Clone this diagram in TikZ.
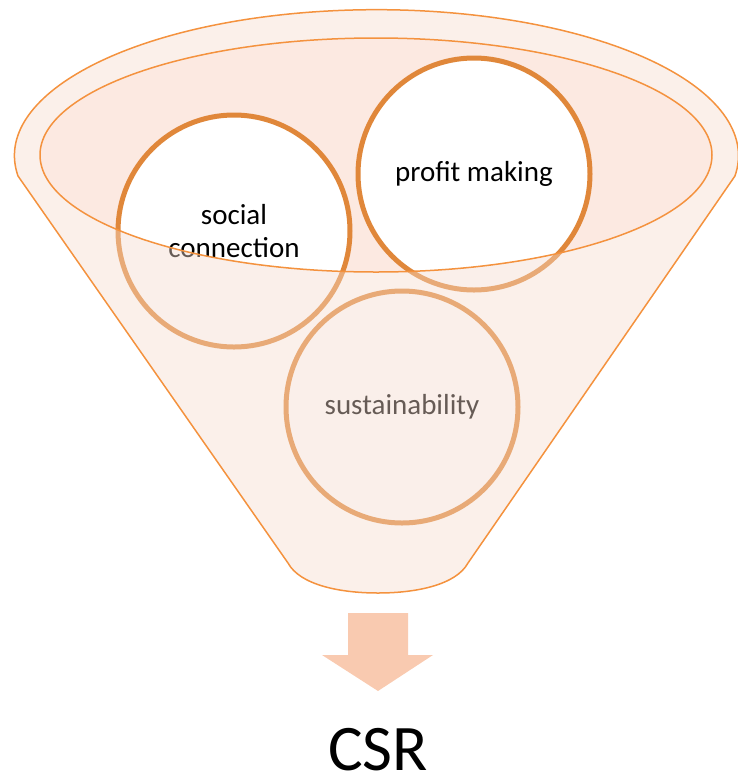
\documentclass[tikz,border=0pt]{standalone}
\usepackage{fontspec}
\setmainfont{Carlito}
\usetikzlibrary{positioning}
\definecolor{FunnelLine}{HTML}{F4923E}
\definecolor{FunnelBody}{RGB}{245,219,205}
\definecolor{FunnelMouth}{HTML}{FCE9E1}
\definecolor{BubbleLine}{HTML}{E0873A}
\definecolor{ArrowFill}{HTML}{F9CAB0}

\begin{document}
\begin{tikzpicture}[x=1pt,y=-1pt,line cap=round,line join=round,
  bubble/.style={circle,draw=BubbleLine,line width=5pt,fill=white,minimum size=232pt,inner sep=0pt,align=center,font=\fontsize{29}{33}\selectfont},
  body/.style={line width=1.5pt}]
  \useasboundingbox (0,0) rectangle (738,780);
  \coordinate (M) at (376,155);\coordinate (TL) at (18,176);\coordinate (BL) at (288,563);\coordinate (BR) at (468,563);
  % mouth of the funnel, behind the bubbles
  \fill[FunnelMouth] (M) ellipse[x radius=336pt,y radius=117pt];
  \node[bubble] (social) at (234,231) {social\\connection};
  \node[bubble] (profit) at (474,174) {profit making};
  \node[bubble] (sustain) at (402,407) {sustainability};
  % front of the funnel, see-through
  \fill[FunnelBody,fill opacity=.42,even odd rule] (TL) arc[start angle=188,end angle=-8,x radius=362pt,y radius=146pt] -- (BR)
    .. controls (456,585) and (416,593) .. (378,593) .. controls (340,593) and (300,585) .. (BL) -- cycle
    (M) ellipse[x radius=336pt,y radius=117pt];
  \draw[FunnelLine,body] (TL) arc[start angle=188,end angle=-8,x radius=362pt,y radius=146pt] -- (BR)
    .. controls (456,585) and (416,593) .. (378,593) .. controls (340,593) and (300,585) .. (BL) -- cycle;
  \draw[FunnelLine,body] (M) ellipse[x radius=336pt,y radius=117pt];
  % arrow down to the result
  \fill[ArrowFill] (348,613) -- (408,613) -- (408,655) -- (433,655) -- (378,691) -- (322,655) -- (348,655) -- cycle;
  \node[font=\fontsize{65}{65}\selectfont] (csr) at (378,750) {CSR};
\end{tikzpicture}
\end{document}
